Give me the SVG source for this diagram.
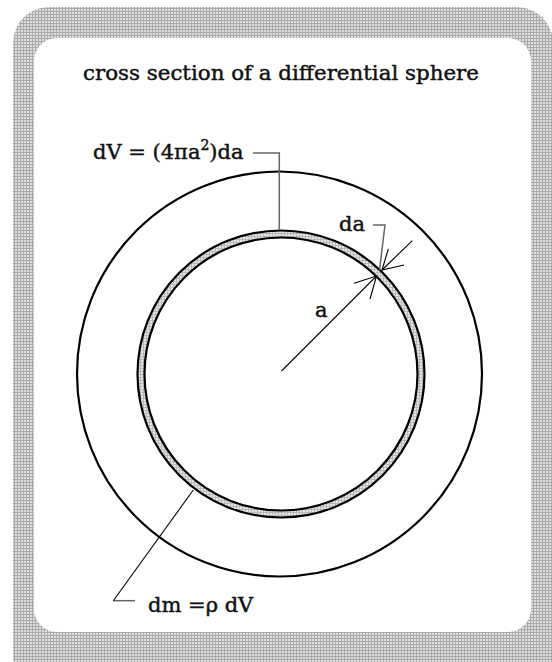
<svg xmlns="http://www.w3.org/2000/svg" width="552" height="662" viewBox="0 0 552 662">
  <defs>
    <pattern id="checker" width="3" height="3" patternUnits="userSpaceOnUse">
      <rect width="3" height="3" fill="#a9a9a9"/>
      <rect width="2" height="2" fill="#dedede"/>
    </pattern>
    <pattern id="shellfill" width="3" height="3" patternUnits="userSpaceOnUse">
      <rect width="3" height="3" fill="#b8b8b8"/>
      <rect width="2" height="2" fill="#e6e6e6"/>
    </pattern>
    <style>
      text { font-family: "DejaVu Serif", "Liberation Serif", serif; font-size: 21px; fill: #111; stroke: #111; stroke-width: 0.45px; }
      .circ { fill: none; stroke: #000; stroke-width: 2.2; }
      .leader { fill: none; stroke: #666; stroke-width: 1.5; }
      .dim { fill: none; stroke: #000; stroke-width: 1.1; }
    </style>
  </defs>

  <g id="frame">
    <rect x="13" y="7" width="540" height="700" rx="36" ry="36" fill="url(#checker)"/>
    <rect x="34" y="38" width="497" height="594" rx="23" ry="23" fill="#ffffff"/>
  </g>

  <g id="title">
    <text x="83" y="80" textLength="396" lengthAdjust="spacingAndGlyphs">cross section of a differential sphere</text>
  </g>

  <g id="outer-circle">
    <circle class="circ" cx="279.5" cy="374" r="202.5"/>
  </g>

  <g id="shell">
    <circle cx="281" cy="374" r="140" fill="none" stroke="url(#shellfill)" stroke-width="7"/>
    <circle class="circ" cx="281" cy="374" r="136.5"/>
    <circle class="circ" cx="281" cy="374" r="143.5"/>
  </g>

  <g id="connectors">
    <polyline class="leader" points="253,153 279.3,153 279.3,230"/>
    <polyline class="leader" points="373,225 385,225 379.5,270"/>
    <polyline class="leader" points="135,600.7 113.3,600.7"/>
    <line class="dim" x1="113.3" y1="600.7" x2="193.3" y2="490" stroke="#222"/>
    <line class="dim" x1="281.5" y1="371" x2="376.5" y2="276"/>
    <polyline class="dim" points="354,283.3 376.5,276 370,299"/>
    <line class="dim" x1="412.3" y1="240.7" x2="382" y2="270"/>
    <polyline class="dim" points="404,265 382,270 388.3,249"/>
  </g>

  <g id="label-dV">
    <text x="93" y="159">dV = (4πa<tspan font-size="14" dy="-9">2</tspan><tspan dy="9">)da</tspan></text>
  </g>
  <g id="label-da">
    <text x="339" y="231">da</text>
  </g>
  <g id="label-a">
    <text x="315" y="317">a</text>
  </g>
  <g id="label-dm">
    <text x="148" y="612">dm =ρ dV</text>
  </g>
</svg>
